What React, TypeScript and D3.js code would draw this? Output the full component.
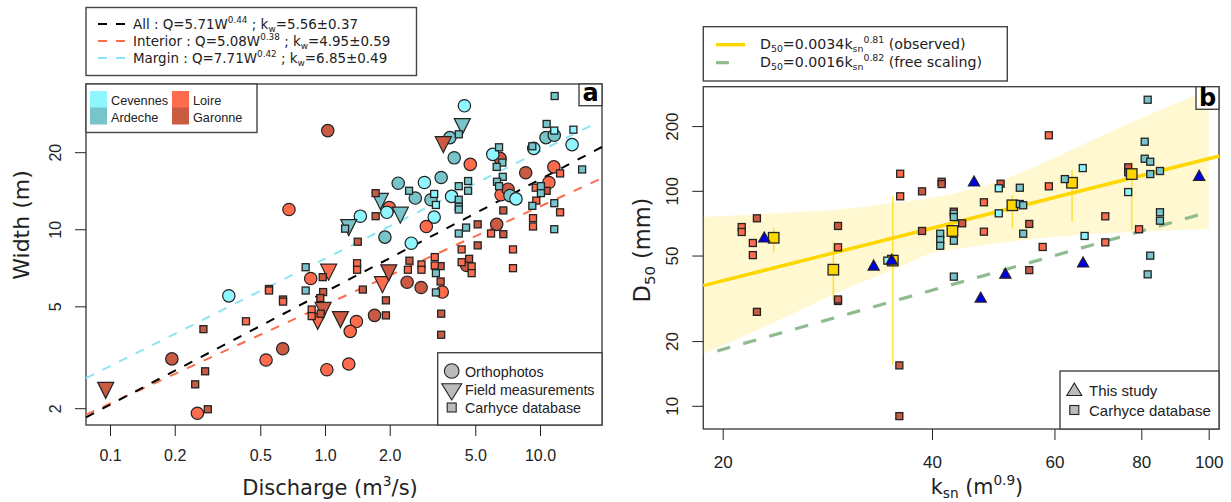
import { useEffect, useRef } from 'react';
import * as d3 from 'd3';

type Pt = number[];

const COLORS = { cevennes: '#8ff6ff', ardeche: '#77c4cb', loire: '#ff6b4d', garonne: '#cb5a43', gold: '#ffd700', green: '#8fbc8f' };

// panel a: discharge (m3/s), width (m)
const orthoLoire: Pt[] = [[4.74,18],[11.6,17.6],[11,15.3],[6.59,13.7],[1.99,12.2],[2.96,10.3],[3.51,5.71],[1.4,4.38],[1.31,4.01],[1.29,2.99],[1.02,2.84],[0.858,6.45],[0.532,3.1],[0.255,1.92],[0.68,12]];
const orthoGaronne: Pt[] = [[1.03,24.4],[6.52,19],[8.58,16.7],[7.1,14.4],[6.29,10.5],[2.41,6.24],[2.8,5.95],[1.7,4.63],[0.636,3.43],[0.194,3.13],[4.56,7.25]];
const orthoArdeche: Pt[] = [[3.81,22.9],[3.99,19.1],[10.66,22.9],[11.65,23.4],[7.25,13.6],[2.19,15.2],[3.47,16],[2.63,13.3],[3.11,13.1],[1.9,9.36]];
const orthoCevennes: Pt[] = [[4.45,30.5],[6.03,19.7],[9.35,20.8],[14.1,21.5],[7.73,13.2],[2.9,15.3],[3.88,13.5],[1.94,11.7],[1.46,11.3],[3.22,11.2],[2.52,8.86],[0.357,5.52]];

const fieldLoire: Pt[] = [[1.04,6.83],[1.85,6.1],[0.925,4.39]];
const fieldGaronne: Pt[] = [[3.55,21.5],[1.98,6.79],[0.98,4.84],[1.18,4.46],[0.0955,2.36]];
const fieldArdeche: Pt[] = [[4.35,25.3],[1.81,12.9],[2.24,11.4],[1.29,10.2]];

const carhyceLoire: Pt[] = [[12.4,16.6],[9.55,14.6],[9.61,13],[12.4,11.7],[9.28,11.1],[9.28,10.3],[5.92,9.67],[4.32,8.38],[7.49,8.38],[3.24,7.82],[3.24,7.25],[2.81,7.32],[2.81,6.98],[2.43,6.98],[1.41,7.4],[1.41,6.98],[4.32,7.47],[4.81,7.19],[4.81,6.77],[7.49,7.08],[0.549,5.79],[0.638,5.24],[0.429,4.39],[0.867,4.88],[0.867,4.6]];
const carhyceArdeche: Pt[] = [[11.7,33.3],[10.74,25.9],[4.19,23.6],[6.45,21],[9.21,21.2],[6.68,18.3],[6.29,17.6],[15.7,17.2],[6.71,16.1],[6.31,15.4],[6.45,14.8],[4.63,15.5],[4.19,14.8],[4.63,14.2],[10.1,14.8],[10.1,13.9],[9.21,12.4],[11.65,12.7],[11.65,10.05],[2.46,14.2],[4.19,13.1],[4.19,12.3],[4.19,12],[1.24,10.1],[4.53,10.2],[4.19,9.67],[3.28,6.77],[3.28,5.69],[0.813,7.14],[0.813,5.79]];
const carhyceCevennes: Pt[] = [[11.65,24.4],[14.3,24.6],[3.22,13.8],[3.28,12.5]];
const carhyceGaronne: Pt[] = [[10.74,14.2],[6.75,11.9],[1.72,13.9],[1.72,11.3],[5.13,10.5],[6.75,9.61],[5.13,8.69],[1.42,8.98],[2.47,7.57],[3.45,7.21],[4.68,7.7],[3.45,6.28],[0.976,6.53],[1.5,5.84],[1.92,5.3],[1.92,4.63],[3.47,4.7],[3.47,3.89],[0.549,5.87],[0.638,5.34],[0.98,5.71],[0.951,5.41],[0.955,4.7],[0.272,4.09],[0.277,2.8],[0.249,2.49],[0.285,1.99]];

const xTicksA = [0.1, 0.2, 0.5, 1, 2, 5, 10];
const yTicksA = [2, 5, 10, 20];
// W = a * Q^b, [a, b, last Q drawn]
const fitAll = [5.71, 0.44, 19.4];
const fitInterior = [5.08, 0.385, 19.4];
const fitMargin = [7.71, 0.42, 17.8];

// panel b: ksn, D50 (mm)
const carhyceBLoire: Pt[] = [[21.3,68.2],[21.3,64.7],[22.1,57.5],[22.1,50.5],[29.3,54.9],[36,120.7],[36,94.8],[43,80.4],[47.5,88.9],[47.5,64.9],[58.9,182.2],[58.9,105.5],[71,76.5],[71,57.9],[57.7,55.1],[79.4,66.6]];
const carhyceBGaronne: Pt[] = [[22.4,74.9],[22.4,27.5],[29.3,69],[29.3,30.9],[29.3,31.4],[38.7,100],[38.7,65.4],[35.9,15.5],[35.9,9],[41.3,110.8],[41.3,108.1],[44.2,71],[50.2,108.5],[55.2,70.5],[55.2,43],[76.6,129.3],[76.6,122.6]];
const carhyceBArdeche: Pt[] = [[43,78.8],[43,75.9],[43,58.9],[41.1,63.5],[41.1,59.4],[41.1,55.8],[53.5,103.9],[53.5,87.3],[54.1,86.1],[54.1,63.5],[62.1,114],[43,40.1],[81.7,266.7],[80.9,170.1],[80.9,141.8],[82.4,137.3],[82.4,120.3],[85.1,124.3],[85.1,79.9],[85.1,73],[82.4,50.2],[81.7,41.1]];
const carhyceBCevennes: Pt[] = [[34.5,47.6],[49.9,103.3],[49.9,79],[65.9,128.3],[66.3,62],[76.6,99.2]];
const thisStudy: Pt[] = [[22.95,61.3],[32.97,45.4],[35,48.3],[45.97,111.7],[51,41.6],[47,32.2],[65.96,46.9],[96.9,118.7]];
// binned means: ksn, D50, low, high
const binned: Pt[] = [[23.68,60.8,52.4,67.5],[28.85,43.2,31.2,58.3],[35.13,47.6,15.6,95],[42.8,65.4,61,70],[52.2,86.1,67.3,96.1],[63.6,109.6,72.2,125.6],[77.5,120.3,66.1,137.3]];

const bandK = [18.75, 25, 30, 35, 40, 45, 50, 60, 70, 80, 100];
const bandUpper = [76.2, 79.6, 82.7, 88.2, 93, 101.4, 111.7, 142.8, 180.7, 219, 296];
const bandLower = [17.5, 26.6, 35.1, 42.8, 51.6, 55, 57.5, 61.3, 63.6, 65, 66.8];
const observedK = [18.75, 103.6];
const observedD = [36.4, 146];
const freeK = [19.64, 96.6];
const freeD = [18.08, 77.6];

const xTicksB = [20, 40, 60, 80, 100];
const yTicksB = [10, 20, 50, 100, 200];

const SANS = 'DejaVu Sans';
const HELV = 'Liberation Sans';
const INK = '#222';
const FRAME = '#444';

type Part = [string, ('sup' | 'sub')?];

function richText(g: any, x: number, y: number, parts: Part[], size: number, rotate = false, anchor = 'start') {
  const t = g.append('text')
    .attr('font-family', SANS).attr('font-size', size).attr('fill', INK).attr('text-anchor', anchor)
    .attr('transform', rotate ? `translate(${x},${y}) rotate(-90)` : `translate(${x},${y})`);
  let shift = 0;
  parts.forEach(([s, mode]) => {
    const target = mode === 'sup' ? -size * 0.42 : mode === 'sub' ? size * 0.2 : 0;
    t.append('tspan')
      .attr('dy', target - shift)
      .attr('font-size', mode ? size * 0.66 : size)
      .text(s);
    shift = target;
  });
}

function legendText(g: any, x: number, y: number, s: string, size: number) {
  g.append('text').attr('x', x).attr('y', y).attr('font-family', HELV).attr('font-size', size).attr('fill', INK).text(s);
}

function drawAxes(g: any, x: any, y: any, xTicks: number[], yTicks: number[], bottom: number, left: number, xFmt: (v: number) => string, size: number, xPad: number, yLabelX: number) {
  const xa = g.append('g').attr('transform', `translate(0,${bottom})`)
    .call(d3.axisBottom(x).tickValues(xTicks).tickSize(11).tickPadding(xPad).tickFormat((v: any) => xFmt(v)));
  xa.select('.domain').remove();
  xa.selectAll('line').attr('stroke', INK).attr('stroke-width', 1);
  xa.selectAll('text').attr('font-family', HELV).attr('font-size', size).attr('fill', INK);

  const ya = g.append('g').attr('transform', `translate(${left},0)`)
    .call(d3.axisLeft(y).tickValues(yTicks).tickSize(11).tickFormat((v: any) => String(v)));
  ya.select('.domain').remove();
  ya.selectAll('line').attr('stroke', INK).attr('stroke-width', 1);
  ya.selectAll('text')
    .attr('font-family', HELV).attr('font-size', size).attr('fill', INK)
    .attr('text-anchor', 'middle').attr('dy', 0).attr('x', 0)
    .attr('transform', (v: any) => `translate(${yLabelX - left},${y(v)}) rotate(-90)`)
    .attr('y', 0);
  ya.selectAll('.tick').attr('transform', (v: any) => `translate(0,0)`);
  ya.selectAll('line').attr('y1', (v: any) => y(v)).attr('y2', (v: any) => y(v));
}

function frame(g: any, x0: number, y0: number, w: number, h: number, fill = 'none') {
  g.append('rect').attr('x', x0).attr('y', y0).attr('width', w).attr('height', h)
    .attr('fill', fill).attr('stroke', FRAME).attr('stroke-width', 1.4);
}

function circles(g: any, data: Pt[], x: any, y: any, color: string) {
  g.append('g').selectAll('circle').data(data).enter().append('circle')
    .attr('cx', (d: Pt) => x(d[0])).attr('cy', (d: Pt) => y(d[1])).attr('r', 6.2)
    .attr('fill', color).attr('stroke', INK).attr('stroke-width', 1.2);
}

function squares(g: any, data: Pt[], x: any, y: any, color: string, size = 7) {
  g.append('g').selectAll('rect').data(data).enter().append('rect')
    .attr('x', (d: Pt) => x(d[0]) - size / 2).attr('y', (d: Pt) => y(d[1]) - size / 2)
    .attr('width', size).attr('height', size)
    .attr('fill', color).attr('stroke', INK).attr('stroke-width', 1.3);
}

function triangles(g: any, data: Pt[], x: any, y: any, color: string, down: boolean, hw: number, hh: number) {
  const s = down ? 1 : -1;
  g.append('g').selectAll('path').data(data).enter().append('path')
    .attr('d', (d: Pt) => {
      const cx = x(d[0]), cy = y(d[1]);
      return `M${cx - hw},${cy - s * hh}L${cx + hw},${cy - s * hh}L${cx},${cy + s * hh}Z`;
    })
    .attr('fill', color).attr('stroke', INK).attr('stroke-width', 1.2);
}

export default function App() {
  const svgRef = useRef<SVGSVGElement>(null);

  useEffect(() => {
    const svg = d3.select(svgRef.current);
    svg.selectAll('*').remove();

    // ---- panel a ----
    const a = svg.append('g');
    const xA = d3.scaleLog().domain([0.1, 10]).range([110, 540]);
    const yA = d3.scaleLog().domain([2, 20]).range([408.7, 152.7]);
    const leftA = 86, rightA = 602, topA = 84, bottomA = 425;

    frame(a, leftA, topA, rightA - leftA, bottomA - topA);
    drawAxes(a, xA, yA, xTicksA, yTicksA, bottomA, leftA, (v) => (v < 1 ? String(v) : v.toFixed(1)), 16, 14, 61);

    const fits: [number[], string, number][] = [[fitMargin, '#8ce6f2', 0], [fitInterior, '#fa6e50', 0], [fitAll, '#000', 0]];
    fits.forEach(([f, color]) => {
      const qs = [xA.invert(leftA), f[2]];
      a.append('path')
        .attr('d', d3.line<number>().x((q) => xA(q)).y((q) => yA(f[0] * Math.pow(q, f[1])))(qs))
        .attr('fill', 'none').attr('stroke', color).attr('stroke-width', 2).attr('stroke-dasharray', '9,9.5');
    });

    circles(a, orthoLoire, xA, yA, COLORS.loire);
    circles(a, orthoGaronne, xA, yA, COLORS.garonne);
    circles(a, orthoArdeche, xA, yA, COLORS.ardeche);
    circles(a, orthoCevennes, xA, yA, COLORS.cevennes);
    triangles(a, fieldLoire, xA, yA, COLORS.loire, true, 8, 8);
    triangles(a, fieldGaronne, xA, yA, COLORS.garonne, true, 8, 8);
    triangles(a, fieldArdeche, xA, yA, COLORS.ardeche, true, 8, 8);
    squares(a, carhyceGaronne, xA, yA, COLORS.garonne);
    squares(a, carhyceLoire, xA, yA, COLORS.loire);
    squares(a, carhyceArdeche, xA, yA, COLORS.ardeche);
    squares(a, carhyceCevennes, xA, yA, COLORS.cevennes);

    // fit legend
    frame(a, 86, 7.5, 330.5, 68, 'white');
    const fitRows: [string, number, Part[]][] = [
      ['#000', 29, [['All : Q=5.71W'], ['0.44', 'sup'], [' ; k'], ['w', 'sub'], ['=5.56±0.37']]],
      ['#fa6e50', 46, [['Interior : Q=5.08W'], ['0.38', 'sup'], [' ; k'], ['w', 'sub'], ['=4.95±0.59']]],
      ['#8ce6f2', 63, [['Margin : Q=7.71W'], ['0.42', 'sup'], [' ; k'], ['w', 'sub'], ['=6.85±0.49']]],
    ];
    fitRows.forEach(([color, yy, parts]) => {
      a.append('line').attr('x1', 98).attr('x2', 125).attr('y1', yy - 5).attr('y2', yy - 5)
        .attr('stroke', color).attr('stroke-width', 2).attr('stroke-dasharray', '9,9');
      richText(a, 133, yy, parts, 13.45);
    });

    // region legend
    frame(a, leftA, topA, 171, 48.5, 'white');
    const swatches: [number, number, string, string][] = [
      [90, 91, COLORS.cevennes, 'Cevennes'],
      [90, 107.5, COLORS.ardeche, 'Ardeche'],
      [172, 91, COLORS.loire, 'Loire'],
      [172, 107.5, COLORS.garonne, 'Garonne'],
    ];
    swatches.forEach(([sx, sy, color, label]) => {
      a.append('rect').attr('x', sx).attr('y', sy).attr('width', 17).attr('height', 17).attr('fill', color);
      legendText(a, sx + 21, sy + 14, label, 12.7);
    });

    // method legend
    frame(a, 437.7, 352.7, rightA - 437.7, bottomA - 352.7, 'white');
    a.append('circle').attr('cx', 451.7).attr('cy', 371).attr('r', 7.3).attr('fill', '#bbb').attr('stroke', INK).attr('stroke-width', 1.1);
    a.append('path').attr('d', 'M441.7,383.7L461.7,383.7L451.7,400Z').attr('fill', '#bbb').attr('stroke', INK).attr('stroke-width', 1.1);
    a.append('rect').attr('x', 447.2).attr('y', 403).attr('width', 9).attr('height', 9).attr('fill', '#bbb').attr('stroke', INK).attr('stroke-width', 1.1);
    legendText(a, 465, 376.5, 'Orthophotos', 14.3);
    legendText(a, 465, 394.5, 'Field measurements', 14.3);
    legendText(a, 465, 412.5, 'Carhyce database', 14.3);

    // corner tag
    frame(a, 579, topA, rightA - 579, 21.7, 'white');
    a.append('text').attr('x', 590.5).attr('y', 101).attr('text-anchor', 'middle')
      .attr('font-family', SANS).attr('font-weight', 'bold').attr('font-size', 24).attr('fill', '#000').text('a');

    richText(a, 330, 494.5, [['Discharge (m'], ['3', 'sup'], ['/s)']], 21, false, 'middle');
    richText(a, 29, 225, [['Width (m)']], 22, true, 'middle');

    // ---- panel b ----
    const b = svg.append('g');
    const xB = d3.scaleLog().domain([20, 100]).range([722.7, 1208.7]);
    const yB = d3.scaleLog().domain([10, 200]).range([406.3, 126.6]);
    const leftB = 703.3, rightB = 1219, topB = 86.7, bottomB = 429;

    frame(b, leftB, topB, rightB - leftB, bottomB - topB);
    drawAxes(b, xB, yB, xTicksB, yTicksB, bottomB, leftB, (v) => String(v), 17, 16, 677.7);

    b.append('path')
      .attr('d', d3.area<number>()
        .x((k) => xB(k))
        .y0((_, i) => yB(bandLower[i]))
        .y1((_, i) => yB(bandUpper[i]))
        .curve(d3.curveMonotoneX)(bandK))
      .attr('fill', COLORS.gold).attr('fill-opacity', 0.18);

    b.append('path')
      .attr('d', d3.line<number>().x((k) => xB(k)).y((_, i) => yB(freeD[i]))(freeK))
      .attr('fill', 'none').attr('stroke', COLORS.green).attr('stroke-width', 3.2).attr('stroke-dasharray', '13.5,13.5');
    b.append('path')
      .attr('d', d3.line<number>().x((k) => xB(k)).y((_, i) => yB(observedD[i]))(observedK))
      .attr('fill', 'none').attr('stroke', COLORS.gold).attr('stroke-width', 3.5);

    b.append('g').selectAll('line').data(binned).enter().append('line')
      .attr('x1', (d) => xB(d[0])).attr('x2', (d) => xB(d[0]))
      .attr('y1', (d) => yB(d[2])).attr('y2', (d) => yB(d[3]))
      .attr('stroke', COLORS.gold).attr('stroke-opacity', 0.7).attr('stroke-width', 1.6);

    squares(b, carhyceBLoire, xB, yB, COLORS.loire);
    squares(b, carhyceBGaronne, xB, yB, COLORS.garonne);
    squares(b, binned, xB, yB, COLORS.gold, 10.5);
    squares(b, carhyceBArdeche, xB, yB, COLORS.ardeche);
    squares(b, carhyceBCevennes, xB, yB, COLORS.cevennes);
    triangles(b, thisStudy, xB, yB, '#0000e6', false, 5.6, 5);

    // line legend
    frame(b, leftB, 26.7, 304, 54.3, 'white');
    b.append('line').attr('x1', 716).attr('x2', 745).attr('y1', 44.7).attr('y2', 44.7).attr('stroke', COLORS.gold).attr('stroke-width', 3.5);
    b.append('line').attr('x1', 716).attr('x2', 729).attr('y1', 62.7).attr('y2', 62.7).attr('stroke', COLORS.green).attr('stroke-width', 3.2);
    richText(b, 760, 49.3, [['D'], ['50', 'sub'], ['=0.0034k'], ['sn', 'sub'], ['0.81', 'sup'], [' (observed)']], 14.2);
    richText(b, 760, 67.3, [['D'], ['50', 'sub'], ['=0.0016k'], ['sn', 'sub'], ['0.82', 'sup'], [' (free scaling)']], 14.2);

    // source legend
    frame(b, 1060, 371, rightB - 1060, bottomB - 371, 'white');
    b.append('path').attr('d', 'M1066.8,395.5L1081.8,395.5L1074.3,383Z').attr('fill', '#bbb').attr('stroke', INK).attr('stroke-width', 1.1);
    b.append('rect').attr('x', 1069.8).attr('y', 405.5).attr('width', 9).attr('height', 9).attr('fill', '#bbb').attr('stroke', INK).attr('stroke-width', 1.1);
    legendText(b, 1089, 396, 'This study', 15);
    legendText(b, 1089, 415.7, 'Carhyce database', 15);

    frame(b, 1196, topB, rightB - 1196, 22.6, 'white');
    b.append('text').attr('x', 1207.5).attr('y', 105.5).attr('text-anchor', 'middle')
      .attr('font-family', SANS).attr('font-weight', 'bold').attr('font-size', 24).attr('fill', '#000').text('b');

    richText(b, 977, 494, [['k'], ['sn', 'sub'], [' (m'], ['0.9', 'sup'], [')']], 20.7, false, 'middle');
    richText(b, 650, 250, [['D'], ['50', 'sub'], [' (mm)']], 22.5, true, 'middle');
  }, []);

  return (
    <svg ref={svgRef} width={1231} height={502} style={{ position: 'absolute', left: 0, top: 0, background: 'white' }} />
  );
}
